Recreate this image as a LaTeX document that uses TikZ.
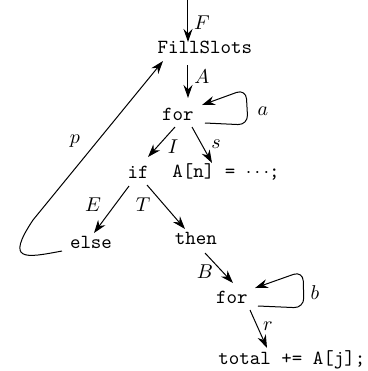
\documentclass[tikz,border=0pt]{standalone}
\usetikzlibrary{arrows.meta,calc}
\begin{document}
\begin{tikzpicture}[x=0.5pt,y=-0.5pt,
  txt/.style={inner sep=0pt,outer sep=0pt,font=\ttfamily\fontsize{10}{12}\selectfont},
  lab/.style={inner sep=0pt,font=\fontsize{10}{12}\selectfont},
  arr/.style={line width=0.5pt,-{Stealth[length=6.5pt,width=4.5pt]}},
  loopy/.style={arr,rounded corners=5pt}]
\useasboundingbox (0,0) rectangle (368,371);
\coordinate (top) at (188,0);
\node[txt] (fill) at (205,47) {FillSlots};
\node[txt] (for1) at (178,114) {for};
\node[txt] (if) at (138,172) {if};
\node[txt] (asgn) at (226,172) {A[n] = $\cdots$;};
\node[txt] (else) at (91,242) {else};
\node[txt] (then) at (196,238) {then};
\node[txt] (for2) at (232,297) {for};
\node[txt] (total) at (292,360) {total += A[j];};

\node[lab] (lF) at (202,23) {$F$};
\node[lab] (lA) at (202,77) {$A$};
\node[lab] (la) at (263,111) {$a$};
\node[lab] (lI) at (173,147) {$I$};
\node[lab] (ls) at (216,144) {$s$};
\node[lab] (lE) at (93,205) {$E$};
\node[lab] (lT) at (143,205) {$T$};
\node[lab] (lp) at (75,141) {$p$};
\node[lab] (lB) at (205,272) {$B$};
\node[lab] (lb) at (315,293) {$b$};
\node[lab] (lr) at (268,326) {$r$};

\draw[arr] (top) -- ($(fill)+(-17,-5)$);
\draw[arr] ($(fill)+(-17,18)$) -- ($(for1)+(10,-16)$);
\draw[loopy] ($(for1)+(27,9)$) -- ($(for1)+(70,11)$) -- ($(for1)+(68,-25)$) -- ($(for1)+(24,-9)$);
\draw[arr] ($(for1)+(-3,13)$) -- ($(if)+(10,-15)$);
\draw[arr] ($(for1)+(14,13)$) -- ($(asgn)+(-14,-9)$);
\draw[arr] ($(if)+(-9,14)$) -- ($(else)+(3,-9)$);
\draw[arr] ($(if)+(9,13)$) -- ($(then)+(-11,-9)$);
\draw[arr] ($(else)+(-29,9)$) .. controls ($(else)+(-66,16)$) and ($(else)+(-86,20)$) .. ($(else)+(-58,-22)$) -- ($(fill)+(-42,14)$);
\draw[arr] ($(then)+(9,15)$) -- ($(for2)+(1,-14)$);
\draw[loopy] ($(for2)+(26,9)$) -- ($(for2)+(72,11)$) -- ($(for2)+(71,-26)$) -- ($(for2)+(23,-9)$);
\draw[arr] ($(for2)+(18,13)$) -- ($(total)+(-25,-12)$);
\end{tikzpicture}
\end{document}
